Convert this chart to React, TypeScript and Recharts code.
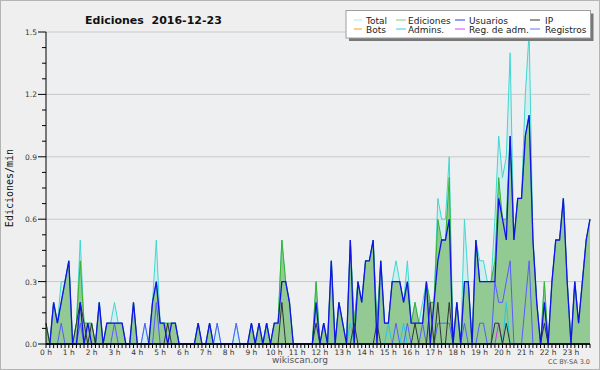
import { Area, CartesianGrid, ComposedChart, Line, ReferenceLine, XAxis, YAxis } from "recharts";

// 10-minute buckets, 144 per day (one row per hour)
const total = [
  0.1, 0, 0.2, 0.1, 0.3, 0.3,
  0.4, 0, 0.1, 0.5, 0.1, 0.1,
  0.1, 0, 0.2, 0, 0.1, 0.1,
  0.2, 0.1, 0.1, 0, 0, 0.2,
  0, 0, 0.1, 0, 0.2, 0.5,
  0.1, 0.1, 0.1, 0.1, 0.1, 0,
  0, 0, 0, 0, 0.1, 0,
  0, 0.1, 0, 0.1, 0, 0,
  0, 0, 0.1, 0, 0, 0,
  0.1, 0, 0.1, 0, 0.1, 0,
  0.1, 0.1, 0.5, 0.3, 0.2, 0,
  0, 0, 0, 0, 0, 0.3,
  0, 0.1, 0, 0.4, 0, 0.2,
  0.1, 0, 0.5, 0.1, 0.3, 0.2,
  0.4, 0.4, 0.5, 0.1, 0.4, 0.1,
  0.1, 0.3, 0.4, 0.3, 0.2, 0.4,
  0.1, 0.2, 0.1, 0.2, 0.3, 0.2,
  0.2, 0.7, 0.6, 0.6, 0.9, 0,
  0.2, 0, 0.6, 0.3, 0, 0.5,
  0.4, 0.4, 0.3, 0.3, 0.6, 1.0,
  0.8, 0.9, 1.4, 0.5, 0.7, 0.7,
  1.2, 1.5, 0.5, 0.2, 0, 0.3,
  0, 0.3, 0.5, 0.5, 0.7, 0.3,
  0, 0.3, 0.1, 0.3, 0.5, 0.6,
];

const ediciones = [
  0.1, 0, 0.2, 0.1, 0.2, 0.3,
  0.4, 0, 0.1, 0.4, 0.1, 0.1,
  0.1, 0, 0.2, 0, 0.1, 0.1,
  0.1, 0.1, 0.1, 0, 0, 0.2,
  0, 0, 0, 0, 0.2, 0.3,
  0.1, 0.1, 0.1, 0.1, 0.1, 0,
  0, 0, 0, 0, 0.1, 0,
  0, 0.1, 0, 0, 0, 0,
  0, 0, 0, 0, 0, 0,
  0.1, 0, 0.1, 0, 0.1, 0,
  0.1, 0.1, 0.5, 0.3, 0.2, 0,
  0, 0, 0, 0, 0, 0.3,
  0, 0.1, 0, 0.4, 0, 0.2,
  0.1, 0, 0.5, 0.1, 0.3, 0.2,
  0.4, 0.4, 0.5, 0.1, 0.4, 0.1,
  0.1, 0.3, 0.3, 0.3, 0.2, 0.3,
  0.1, 0.2, 0.1, 0.1, 0.3, 0.2,
  0.2, 0.6, 0.5, 0.5, 0.8, 0,
  0.2, 0, 0.3, 0.3, 0, 0.5,
  0.3, 0.3, 0.3, 0.3, 0.4, 0.8,
  0.6, 0.6, 1.0, 0.5, 0.7, 0.7,
  1.0, 1.1, 0.5, 0.2, 0, 0.3,
  0, 0.3, 0.5, 0.5, 0.7, 0.3,
  0, 0.3, 0.1, 0.3, 0.5, 0.6,
];

const usuarios = [
  0, 0, 0.2, 0.1, 0.2, 0.3,
  0.4, 0, 0, 0.2, 0, 0.1,
  0, 0, 0.2, 0, 0.1, 0.1,
  0.1, 0.1, 0.1, 0, 0, 0.2,
  0, 0, 0, 0, 0.2, 0.3,
  0.1, 0.1, 0, 0.1, 0.1, 0,
  0, 0, 0, 0, 0.1, 0,
  0, 0.1, 0, 0, 0, 0,
  0, 0, 0, 0, 0, 0,
  0.1, 0, 0.1, 0, 0.1, 0,
  0.1, 0.1, 0.3, 0.3, 0.2, 0,
  0, 0, 0, 0, 0, 0.2,
  0, 0.1, 0, 0.4, 0, 0.2,
  0.1, 0, 0.5, 0, 0.3, 0.2,
  0.4, 0.4, 0.5, 0, 0.4, 0.1,
  0.1, 0.3, 0.3, 0.3, 0.2, 0.3,
  0.1, 0.1, 0.1, 0.1, 0.3, 0,
  0.2, 0.4, 0.5, 0.5, 0.6, 0,
  0.2, 0, 0.3, 0.3, 0, 0.5,
  0.3, 0.3, 0.3, 0.3, 0.3, 0.7,
  0.6, 0.5, 1.0, 0.5, 0.7, 0.7,
  1.0, 1.1, 0.5, 0.2, 0, 0.2,
  0, 0.3, 0.5, 0.5, 0.7, 0.3,
  0, 0.3, 0.1, 0.3, 0.5, 0.6,
];

const ip = [
  0.1, 0, 0, 0, 0, 0,
  0, 0, 0.1, 0.2, 0.1, 0,
  0.1, 0, 0, 0, 0, 0,
  0, 0, 0, 0, 0, 0,
  0, 0, 0, 0, 0, 0,
  0, 0, 0.1, 0, 0, 0,
  0, 0, 0, 0, 0, 0,
  0, 0, 0, 0, 0, 0,
  0, 0, 0, 0, 0, 0,
  0, 0, 0, 0, 0, 0,
  0, 0, 0.2, 0, 0, 0,
  0, 0, 0, 0, 0, 0.1,
  0, 0, 0, 0, 0, 0,
  0, 0, 0, 0.1, 0, 0,
  0, 0, 0, 0.1, 0, 0,
  0, 0, 0, 0, 0, 0,
  0, 0.1, 0, 0, 0, 0.2,
  0, 0.2, 0, 0, 0.2, 0,
  0, 0, 0, 0, 0, 0,
  0, 0, 0, 0, 0.1, 0.1,
  0, 0.1, 0, 0, 0, 0,
  0, 0, 0, 0, 0, 0.1,
  0, 0, 0, 0, 0, 0,
  0, 0, 0, 0, 0, 0,
];

const registros = [
  0, 0, 0, 0, 0.1, 0,
  0, 0, 0, 0.1, 0, 0,
  0, 0, 0, 0, 0, 0,
  0.1, 0, 0, 0, 0, 0,
  0, 0, 0.1, 0, 0, 0.2,
  0, 0, 0, 0, 0, 0,
  0, 0, 0, 0, 0, 0,
  0, 0, 0, 0.1, 0, 0,
  0, 0, 0.1, 0, 0, 0,
  0, 0, 0, 0, 0, 0,
  0, 0, 0, 0, 0, 0,
  0, 0, 0, 0, 0, 0,
  0, 0, 0, 0, 0, 0,
  0, 0, 0, 0, 0, 0,
  0, 0, 0, 0, 0, 0,
  0, 0, 0.1, 0, 0, 0.1,
  0, 0, 0, 0.1, 0, 0,
  0, 0.1, 0.1, 0.1, 0.1, 0,
  0, 0, 0.1, 0, 0, 0,
  0.1, 0.1, 0, 0, 0.3, 0.2,
  0.2, 0.3, 0.4, 0, 0, 0,
  0.2, 0.4, 0, 0, 0, 0,
  0, 0, 0, 0, 0, 0,
  0, 0, 0, 0, 0, 0,
];

const admins = [
  0, 0, 0, 0, 0, 0, 0, 0, 0, 0, 0, 0, 0, 0, 0, 0, 0, 0, 0, 0, 0, 0, 0, 0,
  0, 0, 0, 0, 0, 0, 0, 0, 0, 0, 0, 0, 0, 0, 0, 0, 0, 0, 0, 0, 0, 0, 0, 0,
  0, 0, 0, 0, 0, 0, 0, 0, 0, 0, 0.1, 0, 0, 0, 0, 0, 0, 0, 0, 0, 0, 0, 0, 0,
  0, 0, 0, 0, 0, 0, 0, 0, 0.1, 0, 0, 0, 0, 0, 0, 0, 0, 0, 0.1, 0, 0, 0, 0.1, 0,
  0, 0, 0, 0, 0, 0, 0, 0, 0, 0, 0, 0, 0, 0, 0, 0, 0, 0, 0, 0, 0, 0, 0, 0,
  0, 0.2, 0, 0, 0, 0, 0, 0, 0, 0, 0, 0, 0, 0, 0, 0, 0, 0, 0, 0, 0, 0, 0, 0,
];

const regAdm = [
  0, 0, 0, 0, 0, 0, 0, 0, 0, 0, 0, 0, 0, 0, 0, 0, 0, 0, 0, 0, 0, 0, 0, 0,
  0, 0, 0, 0, 0, 0, 0, 0, 0, 0, 0, 0, 0, 0, 0, 0, 0, 0, 0, 0, 0, 0, 0, 0,
  0, 0, 0, 0, 0, 0, 0, 0, 0, 0, 0, 0, 0, 0, 0, 0, 0, 0, 0, 0, 0, 0, 0, 0,
  0, 0, 0, 0, 0, 0, 0, 0, 0, 0, 0, 0, 0, 0, 0, 0, 0, 0, 0, 0, 0, 0, 0, 0,
  0, 0, 0, 0, 0, 0, 0, 0, 0, 0, 0, 0, 0, 0, 0, 0, 0, 0, 0, 0, 0, 0, 0, 0.1,
  0, 0, 0, 0, 0, 0, 0, 0, 0, 0, 0, 0, 0, 0, 0, 0, 0, 0, 0, 0, 0, 0, 0, 0,
];

const bots = total.map(() => 0);

const hourLabels = [
  "0 h", "1 h", "2 h", "3 h", "4 h", "5 h", "6 h", "7 h", "8 h", "9 h", "10 h", "11 h",
  "12 h", "13 h", "14 h", "15 h", "16 h", "17 h", "18 h", "19 h", "20 h", "21 h", "22 h", "23 h",
];
const yMajor = [0, 0.3, 0.6, 0.9, 1.2, 1.5];
const yLabels = ["0.0", "0.3", "0.6", "0.9", "1.2", "1.5"];

const series = [
  { key: "total", name: "Total", color: "#3fd8d2", legend: "#a8e8ea" },
  { key: "ediciones", name: "Ediciones", color: "#34b534", legend: "#80d080" },
  { key: "usuarios", name: "Usuarios", color: "#1212ec", legend: "#3030ee" },
  { key: "ip", name: "IP", color: "#333333", legend: "#333333" },
  { key: "bots", name: "Bots", color: "#ff9a1a", legend: "#ff9a1a" },
  { key: "admins", name: "Admins.", color: "#22c8e8", legend: "#30d0e8" },
  { key: "regAdm", name: "Reg. de adm.", color: "#d030e8", legend: "#e040f0" },
  { key: "registros", name: "Registros", color: "#5a5aff", legend: "#7070ff" },
];

const data = total.map((t, i) => ({
  slot: i,
  total: t,
  ediciones: ediciones[i],
  usuarios: usuarios[i],
  ip: ip[i],
  bots: bots[i],
  admins: admins[i],
  regAdm: regAdm[i],
  registros: registros[i],
}));

const xTicks = data.map((d) => d.slot);
const yTicks = yMajor.slice(0, -1).flatMap((v) => [v, v + 0.075, v + 0.15, v + 0.225]).concat([1.5]);

const color = (key: string) => series.find((s) => s.key === key)!.color;

function XTick({ x, y, payload }: any) {
  const v = payload.value;
  return (
    <g>
      <line x1={x} x2={x} y1={y} y2={y + 4} stroke="#000" />
      {v % 6 === 0 && (
        <text x={x} y={y + 10.5} textAnchor="middle" fontSize={7.5} fill="#333">
          {hourLabels[v / 6]}
        </text>
      )}
    </g>
  );
}

function YTick({ x, y, payload }: any) {
  const idx = yMajor.findIndex((m) => Math.abs(m - payload.value) < 1e-6);
  const major = idx >= 0;
  return (
    <g>
      <line x1={x - (major ? 8 : 4)} x2={x} y1={y} y2={y} stroke="#000" />
      {major && (
        <text x={x - 9} y={y + 3} textAnchor="end" fontSize={7.5} fill="#333">
          {yLabels[idx]}
        </text>
      )}
    </g>
  );
}

const legendCols = [
  { sw: 354, swW: 8, tx: 366 },
  { sw: 396, swW: 10, tx: 408 },
  { sw: 455, swW: 10, tx: 469 },
  { sw: 530, swW: 10, tx: 545 },
];

export default function App() {
  return (
    <div style={{ position: "absolute", left: 0, top: 0, width: 600, height: 370, background: "#efefef", fontFamily: "DejaVu Sans" }}>
      <ComposedChart width={600} height={370} data={data} margin={{ top: 32, right: 10, bottom: 0, left: 0 }}>
        <CartesianGrid fill="#edeff1" stroke="#c9c9c9" vertical={false} horizontalValues={yMajor.slice(1)} />
        <XAxis
          dataKey="slot"
          type="number"
          domain={[0, 143]}
          ticks={xTicks}
          interval={0}
          height={26}
          tickSize={0}
          tickMargin={0}
          tickLine={false}
          axisLine={{ stroke: "#000" }}
          tick={(p: any) => <XTick {...p} />}
        />
        <YAxis
          type="number"
          domain={[0, 1.5]}
          ticks={yTicks}
          interval={0}
          width={46}
          tickSize={0}
          tickMargin={0}
          tickLine={false}
          axisLine={{ stroke: "#000" }}
          tick={(p: any) => <YTick {...p} />}
        />
        <Area type="linear" dataKey="total" stroke={color("total")} strokeWidth={1} fill="#c6ecf0" fillOpacity={0.7} dot={false} activeDot={false} isAnimationActive={false} />
        <Area type="linear" dataKey="ediciones" stroke={color("ediciones")} strokeWidth={1} fill="#93ca93" fillOpacity={1} dot={false} activeDot={false} isAnimationActive={false} />
        <Line type="linear" dataKey="bots" stroke={color("bots")} strokeWidth={1} dot={false} activeDot={false} isAnimationActive={false} />
        <Line type="linear" dataKey="regAdm" stroke={color("regAdm")} strokeWidth={1} dot={false} activeDot={false} isAnimationActive={false} />
        <Line type="linear" dataKey="admins" stroke={color("admins")} strokeWidth={1} dot={false} activeDot={false} isAnimationActive={false} />
        <Line type="linear" dataKey="registros" stroke={color("registros")} strokeWidth={1} dot={false} activeDot={false} isAnimationActive={false} />
        <Line type="linear" dataKey="ip" stroke={color("ip")} strokeWidth={1} dot={false} activeDot={false} isAnimationActive={false} />
        <Line type="linear" dataKey="usuarios" stroke={color("usuarios")} strokeWidth={1.3} dot={false} activeDot={false} isAnimationActive={false} />
        <ReferenceLine y={0} stroke="#000" strokeWidth={1} />
      </ComposedChart>
      <svg width={600} height={370} style={{ position: "absolute", left: 0, top: 0, pointerEvents: "none" }}>
        <rect x={0.5} y={0.5} width={599} height={369} fill="none" stroke="#b4b4b4" />
        <text x={85} y={24} fontSize={11} fontWeight="bold" fill="#111" style={{ whiteSpace: "pre" }}>
          {"Ediciones  2016-12-23"}
        </text>
        <text transform="translate(13, 188) rotate(-90)" textAnchor="middle" fontSize={10} fontFamily="DejaVu Sans Mono" fill="#111">
          Ediciones/min
        </text>
        <text x={300} y={363} textAnchor="middle" fontSize={9} fill="#555">
          wikiscan.org
        </text>
        <text x={590} y={364} textAnchor="end" fontSize={6.5} fill="#555">
          CC BY-SA 3.0
        </text>
        <rect x={349} y={13.5} width={244.5} height={27.5} fill="#777" />
        <rect x={346} y={10.5} width={244.5} height={27.5} fill="#fff" stroke="#a0a0a0" />
        {series.map((s, i) => {
          const col = legendCols[i % 4];
          const cy = i < 4 ? 20 : 29;
          return (
            <g key={s.key}>
              <line x1={col.sw} x2={col.sw + col.swW} y1={cy} y2={cy} stroke={s.legend} />
              <text x={col.tx} y={cy + 3.5} fontSize={9} fill="#222">
                {s.name}
              </text>
            </g>
          );
        })}
      </svg>
    </div>
  );
}
